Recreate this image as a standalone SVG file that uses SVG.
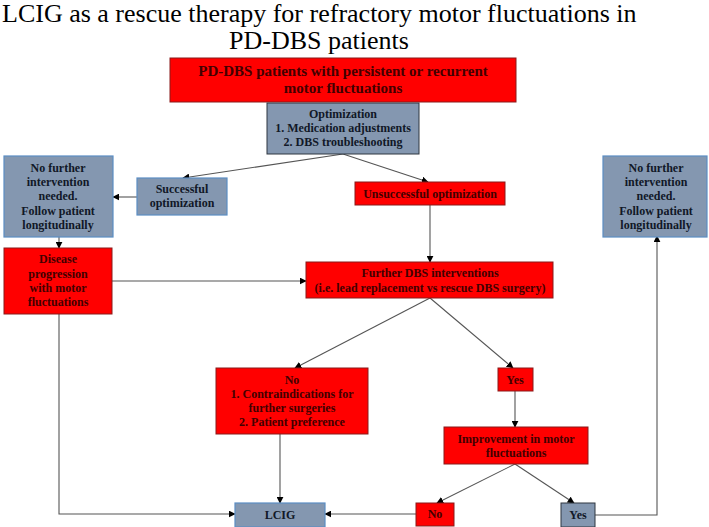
<svg xmlns="http://www.w3.org/2000/svg" width="709" height="527" viewBox="0 0 709 527">
<style>
.red{fill:#FF0000;stroke:#8a1a1a;stroke-width:1}
.gry{fill:#8497B0;stroke:#2f3640;stroke-width:1}
.gry2{fill:#8497B0;stroke:#5b8ec4;stroke-width:1.2}
.tr{fill:#420000}
.tg{fill:#111827}
.c{fill:none;stroke:#555;stroke-width:1.1}
</style>
<defs>
<marker id="a" viewBox="0 0 10 10" refX="9" refY="5" markerWidth="7" markerHeight="7" markerUnits="userSpaceOnUse" orient="auto">
<path d="M0,0 L10,5 L0,10 z" fill="#000"/>
</marker>
</defs>
<rect width="709" height="527" fill="#fff"/>
<g font-family="'Liberation Serif', 'Times New Roman', serif" font-size="26" fill="#000">
<text x="2" y="22">LCIG as a rescue therapy for refractory motor fluctuations in</text>
<text x="319" y="49" text-anchor="middle">PD-DBS patients</text>
</g>

<g id="connectors">
<path class="c" d="M343,154 L183,178" marker-end="url(#a)"/>
<path class="c" d="M343,154 L428,182" marker-end="url(#a)"/>
<path class="c" d="M137,197 L113,197" marker-end="url(#a)"/>
<path class="c" d="M59,237 L59,248" marker-end="url(#a)"/>
<path class="c" d="M112,281 L306,281" marker-end="url(#a)"/>
<path class="c" d="M430,205 L430,262" marker-end="url(#a)"/>
<path class="c" d="M430,298 L295,368" marker-end="url(#a)"/>
<path class="c" d="M430,298 L513,368" marker-end="url(#a)"/>
<path class="c" d="M515,391 L515,427" marker-end="url(#a)"/>
<path class="c" d="M515,464 L437,503" marker-end="url(#a)"/>
<path class="c" d="M515,464 L574,503" marker-end="url(#a)"/>
<path class="c" d="M416,514 L325,514" marker-end="url(#a)"/>
<path class="c" d="M280,434 L280,503" marker-end="url(#a)"/>
<path class="c" d="M59,314 L59,514 L235,514" marker-end="url(#a)"/>
<path class="c" d="M595,515 L657,515 L657,236" marker-end="url(#a)"/>
</g>

<g font-family="'Liberation Serif', 'Times New Roman', serif" font-weight="bold" font-size="12" text-anchor="middle">
<g id="n1"><rect class="red" x="170" y="58" width="346" height="44"/>
<text class="tr" font-size="15" x="343" y="76">PD-DBS patients with persistent or recurrent</text>
<text class="tr" font-size="15" x="343" y="93">motor fluctuations</text></g>

<g id="n2"><rect class="gry" x="267" y="103" width="152" height="51"/>
<text class="tg" x="343" y="118">Optimization</text>
<text class="tg" x="343" y="132">1. Medication adjustments</text>
<text class="tg" x="343" y="146">2. DBS troubleshooting</text></g>

<g id="n3"><rect class="gry2" x="4" y="156" width="109" height="81"/>
<text class="tg" x="58" y="172">No further</text>
<text class="tg" x="58" y="186">intervention</text>
<text class="tg" x="58" y="200">needed.</text>
<text class="tg" x="58" y="215">Follow patient</text>
<text class="tg" x="58" y="229">longitudinally</text></g>

<g id="n4"><rect class="gry2" x="137" y="178" width="90" height="37"/>
<text class="tg" x="182" y="193">Successful</text>
<text class="tg" x="182" y="207">optimization</text></g>

<g id="n5"><rect class="red" x="355" y="182" width="150" height="23"/>
<text class="tr" x="430" y="198">Unsuccessful optimization</text></g>

<g id="n6"><rect class="gry2" x="603" y="156" width="104" height="81"/>
<text class="tg" x="656" y="172">No further</text>
<text class="tg" x="656" y="186">intervention</text>
<text class="tg" x="656" y="200">needed.</text>
<text class="tg" x="656" y="215">Follow patient</text>
<text class="tg" x="656" y="229">longitudinally</text></g>

<g id="n7"><rect class="red" x="4" y="248" width="108" height="66"/>
<text class="tr" x="58" y="263">Disease</text>
<text class="tr" x="58" y="278">progression</text>
<text class="tr" x="58" y="292">with motor</text>
<text class="tr" x="58" y="306">fluctuations</text></g>

<g id="n8"><rect class="red" x="306" y="262" width="247" height="36"/>
<text class="tr" x="430" y="277">Further DBS interventions</text>
<text class="tr" x="430" y="292">(i.e. lead replacement vs rescue DBS surgery)</text></g>

<g id="n9"><rect class="red" x="216" y="368" width="152" height="66"/>
<text class="tr" x="292" y="384">No</text>
<text class="tr" x="292" y="398">1. Contraindications for</text>
<text class="tr" x="292" y="412">further surgeries</text>
<text class="tr" x="292" y="426">2. Patient preference</text></g>

<g id="n10"><rect class="red" x="498" y="368" width="35" height="23"/>
<text class="tr" x="515" y="384">Yes</text></g>

<g id="n11"><rect class="red" x="444" y="427" width="144" height="37"/>
<text class="tr" x="516" y="443">Improvement in motor</text>
<text class="tr" x="516" y="457">fluctuations</text></g>

<g id="n12"><rect class="red" x="416" y="503" width="38" height="23"/>
<text class="tr" x="435" y="518">No</text></g>

<g id="n13"><rect class="gry" x="561" y="503" width="34" height="24"/>
<text class="tg" x="578" y="519">Yes</text></g>

<g id="n14"><rect class="gry2" x="235" y="503" width="90" height="24"/>
<text class="tg" x="280" y="519">LCIG</text></g>
</g>
</svg>
